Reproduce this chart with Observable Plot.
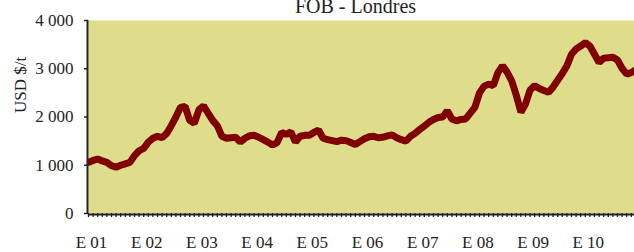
<!DOCTYPE html>
<html>
<head>
<meta charset="utf-8">
<script src="https://cdn.jsdelivr.net/npm/d3@7"></script>
<script src="https://cdn.jsdelivr.net/npm/@observablehq/plot@0.6"></script>
<style>
  html, body { margin: 0; padding: 0; background: #fff; }
  #chart svg { display: block; }
</style>
</head>
<body>
<div id="chart"></div>
<script>
// Monthly cocoa price, FOB London (USD $/t), Jan 2001 .. Dec 2010
const prices = [
  1060, 1100, 1130, 1090, 1060, 990, 960, 1000, 1030, 1060, 1200, 1300,
  1350, 1480, 1560, 1600, 1570, 1660, 1820, 2000, 2200, 2220, 1930, 1870,
  2150, 2230, 2080, 1930, 1820, 1600, 1560, 1570, 1580, 1480, 1560, 1610,
  1620, 1580, 1530, 1480, 1420, 1470, 1680, 1640, 1690, 1480, 1600, 1620,
  1620, 1680, 1730, 1560, 1530, 1510, 1490, 1520, 1510, 1470, 1430, 1490,
  1550, 1590, 1600, 1570, 1580, 1610, 1630, 1570, 1530, 1500, 1600, 1660,
  1740, 1810, 1890, 1950, 1990, 2000, 2130, 1960, 1920, 1950, 1960, 2080,
  2200, 2500, 2640, 2680, 2650, 2920, 3060, 2930, 2750, 2450, 2100, 2270,
  2560, 2650, 2590, 2550, 2510, 2620, 2760, 2900, 3060, 3300, 3410, 3470,
  3540, 3470, 3300, 3130, 3220, 3230, 3240, 3180, 3010, 2890, 2920, 2980
];
const yearLabels = ["E 01", "E 02", "E 03", "E 04", "E 05", "E 06", "E 07", "E 08", "E 09", "E 10"];
const yTicks = [0, 1000, 2000, 3000, 4000];
const title = "FOB - Londres";
const yTitle = "USD $/t";

const data = prices.map((v, i) => ({month: i, value: v}));
const monthTicks = d3.range(prices.length);
const yearTicks = yearLabels.map((_, i) => i * 12);

const fmt = d => d3.format(",")(d).replace(/,/g, "\u202f").replace("\u202f", " ");
const font = "'Liberation Serif', 'Times New Roman', serif";

const chart = Plot.plot({
  width: 634,
  height: 252,
  marginLeft: 88,
  marginRight: 0,
  marginTop: 20,
  marginBottom: 39,
  style: {fontFamily: font, fontSize: "17px", color: "#222", background: "#fff"},
  x: {domain: [0, 118.7]},
  y: {domain: [0, 4000]},
  marks: [
    Plot.frame({fill: "#dddd8b", stroke: null}),
    Plot.axisY({ticks: yTicks, tickSize: 4, tickPadding: 11, tickFormat: fmt, label: null, stroke: "#222", strokeWidth: 1.5}),
    Plot.axisX({ticks: monthTicks, tickSize: 4, tickFormat: () => "", label: null, stroke: "#222", strokeWidth: 1.3}),
    Plot.axisX({ticks: yearTicks, tickSize: 0, tickPadding: 22, dx: 3, tickFormat: (d, i) => yearLabels[i], label: null}),
    Plot.ruleX([0], {stroke: "#222", strokeWidth: 2, dx: -1}),
    Plot.ruleY([0], {stroke: "#222", strokeWidth: 2, dy: 1}),
    Plot.line(data, {x: "month", y: "value", stroke: "#800000", strokeWidth: 7, strokeLinejoin: "miter", clip: true}),
    Plot.text([title], {frameAnchor: "top", lineAnchor: "bottom", dy: -8, dx: -6, fontSize: 20, fill: "#222"}),
    Plot.text([yTitle], {frameAnchor: "left", rotate: -90, dx: -68, dy: -4, fontSize: 17, fill: "#222"})
  ]
});
document.getElementById("chart").append(chart);
</script>
</body>
</html>
